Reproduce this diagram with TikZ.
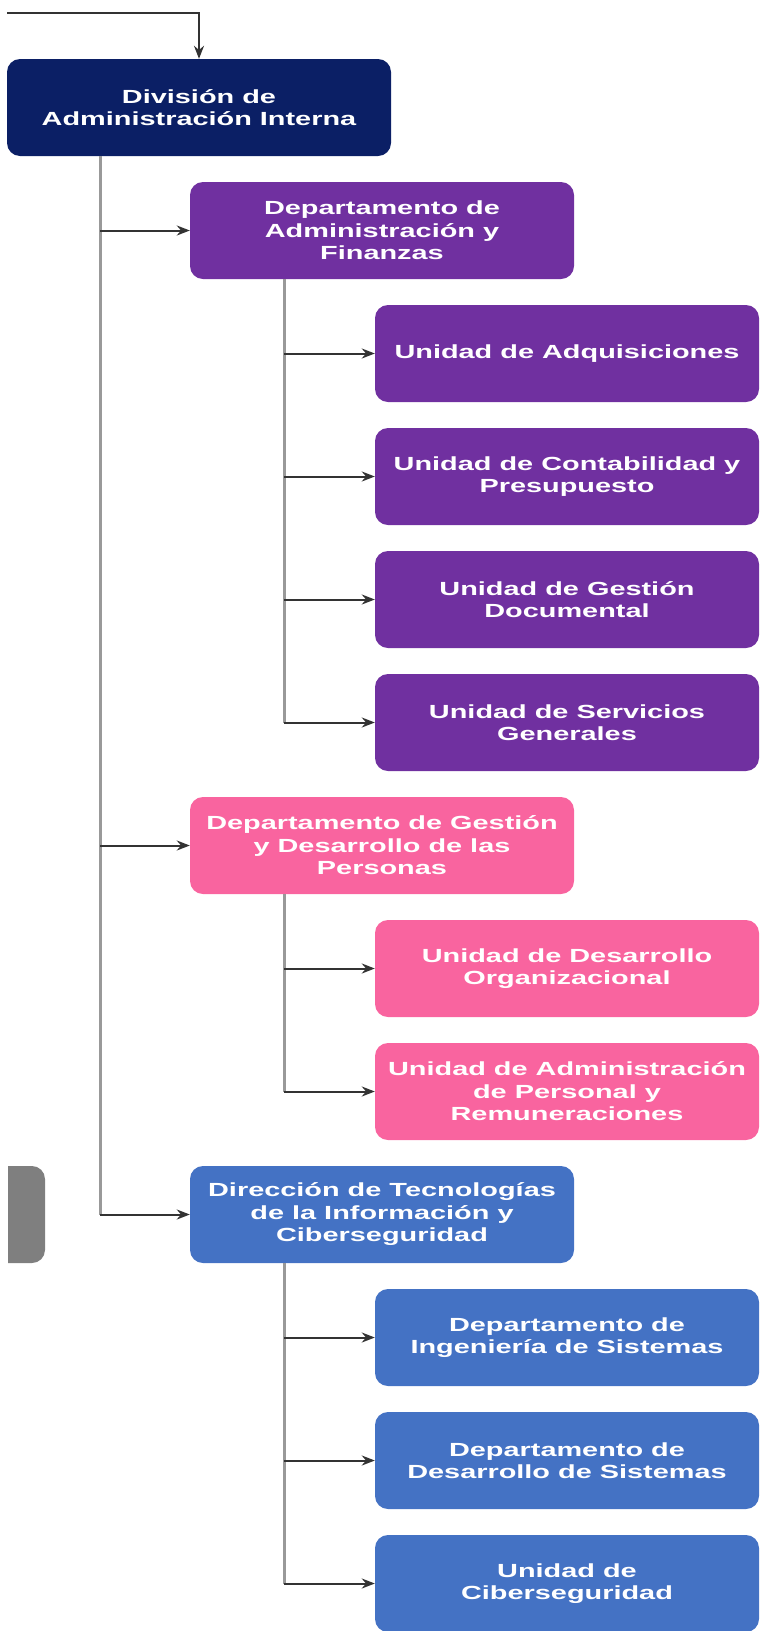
\documentclass[tikz,border=0pt]{standalone}
\usepackage{fontspec}
\newfontfamily\orgfont{Liberation Sans}[FakeStretch=1.52]
\usetikzlibrary{arrows.meta}

\definecolor{divnavy}{HTML}{0B1F65}
\definecolor{afpurple}{HTML}{7030A0}
\definecolor{gdpink}{HTML}{F9649F}
\definecolor{tiblue}{HTML}{4472C4}
\definecolor{cutgray}{HTML}{7F7F7F}

\tikzset{
  orgbox/.style={rounded corners=13pt, minimum width=384pt, minimum height=97pt,
    inner sep=2pt, align=center, text=white,
    font=\orgfont\bfseries\fontsize{19}{22.5}\selectfont},
  trunk/.style={draw=black!40, line width=3pt},
  branch/.style={draw=black!80, line width=2pt, -{Stealth[length=13pt,width=10pt]}},
}

\begin{document}
\begin{tikzpicture}[x=1pt,y=-1pt]
      \useasboundingbox (0,0) rectangle (760,1631);

      \node[orgbox, fill=divnavy] (div) at (199,107.5) {División de\\Administración Interna};

      \node[orgbox, fill=afpurple] (dep1) at (382,230.5) {Departamento de\\Administración y\\Finanzas};
      \node[orgbox, fill=afpurple] (ua1) at (567,353.5) {Unidad de Adquisiciones};
      \node[orgbox, fill=afpurple] (ua2) at (567,476.5) {Unidad de Contabilidad y\\Presupuesto};
      \node[orgbox, fill=afpurple] (ua3) at (567,599.5) {Unidad de Gestión\\Documental};
      \node[orgbox, fill=afpurple] (ua4) at (567,722.5) {Unidad de Servicios\\Generales};

      \node[orgbox, fill=gdpink] (dep2) at (382,845.5) {Departamento de Gestión\\y Desarrollo de las\\Personas};
      \node[orgbox, fill=gdpink] (up1) at (567,968.5) {Unidad de Desarrollo\\Organizacional};
      \node[orgbox, fill=gdpink] (up2) at (567,1091.5) {Unidad de Administración\\de Personal y\\Remuneraciones};

      \node[orgbox, fill=tiblue] (dti) at (382,1214.5) {Dirección de Tecnologías\\de la Información y\\Ciberseguridad};
      \node[orgbox, fill=tiblue] (ut1) at (567,1337.5) {Departamento de\\Ingeniería de Sistemas};
      \node[orgbox, fill=tiblue] (ut2) at (567,1460.5) {Departamento de\\Desarrollo de Sistemas};
      \node[orgbox, fill=tiblue] (ut3) at (567,1583.5) {Unidad de\\Ciberseguridad};

      % box cut off at the left edge
      \begin{scope}
        \clip (8,1150) rectangle (60,1280);
        \fill[cutgray, rounded corners=13pt] (-40,1166) rectangle (45,1263);
      \end{scope}

      \coordinate (feed) at (7,13);
      \coordinate (trunk) at (100,0);
      \coordinate (subtrunk) at (284,0);

      \draw[branch] (feed) -| (div.north);

      \draw[trunk] (div.south -| trunk) -- (dti.west -| trunk);
      \foreach \n in {dep1,dep2,dti}
        \draw[branch] (\n.west -| trunk) -- (\n.west);

      \draw[trunk] (dep1.south -| subtrunk) -- (ua4.west -| subtrunk);
      \foreach \n in {ua1,ua2,ua3,ua4}
        \draw[branch] (\n.west -| subtrunk) -- (\n.west);

      \draw[trunk] (dep2.south -| subtrunk) -- (up2.west -| subtrunk);
      \foreach \n in {up1,up2}
        \draw[branch] (\n.west -| subtrunk) -- (\n.west);

      \draw[trunk] (dti.south -| subtrunk) -- (ut3.west -| subtrunk);
      \foreach \n in {ut1,ut2,ut3}
        \draw[branch] (\n.west -| subtrunk) -- (\n.west);
\end{tikzpicture}
\end{document}
